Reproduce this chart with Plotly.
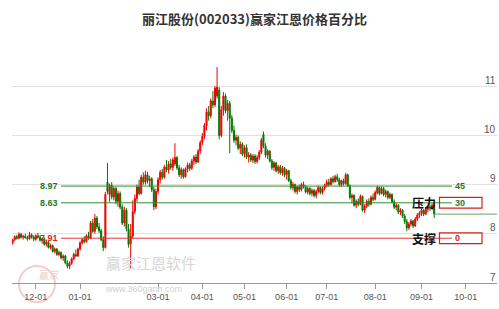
import plotly.graph_objects as go
import pandas as pd

# ---------------- data ----------------
opens = [7.82, 7.88, 7.94, 7.91, 7.99, 7.93, 7.95, 7.92, 7.90, 7.98,
         7.93, 7.89, 7.96, 7.93, 7.87, 7.90, 7.79, 7.83, 7.72, 7.76,
         7.64, 7.69, 7.58, 7.62, 7.51, 7.55, 7.41, 7.34, 7.40, 7.49,
         7.58, 7.55, 7.69, 7.82, 7.88, 7.84, 7.96, 7.91, 8.22, 8.05,
         8.32, 8.14, 8.06, 7.88, 7.72, 9.05, 8.80, 8.98, 8.75, 8.92,
         8.66, 8.82, 8.54, 8.22, 8.48, 8.10, 7.80, 7.95, 8.45, 8.72,
         8.95, 8.82, 9.15, 9.05, 9.20, 9.08, 9.12, 8.90, 8.55, 8.86,
         9.10, 9.25, 9.15, 9.36, 9.30, 9.42, 9.35, 9.42, 9.55, 9.34,
         9.20, 9.30, 9.16, 9.32, 9.40, 9.33, 9.48, 9.56, 9.46, 9.68,
         9.85, 9.98, 10.20, 10.48, 10.40, 10.70, 10.62, 10.80, 10.92, 10.00,
         10.52, 10.80, 10.50, 10.65, 10.35, 10.10, 9.90, 9.96, 9.74, 9.82,
         9.62, 9.75, 9.56, 9.60, 9.50, 9.58, 9.47, 9.55, 9.66, 10.02,
         9.78, 9.60, 9.68, 9.48, 9.35, 9.44, 9.28, 9.36, 9.24, 9.33,
         9.20, 9.28, 9.08, 8.94, 9.00, 8.86, 8.95, 8.90, 9.00, 8.96,
         8.85, 8.92, 8.82, 8.88, 8.78, 8.86, 8.94, 8.84, 8.92, 8.98,
         9.05, 9.00, 9.12, 9.06, 9.16, 9.10, 9.00, 9.08, 9.02, 9.20,
         8.98, 8.74, 8.78, 8.58, 8.66, 8.60, 8.76, 8.48, 8.56, 8.66,
         8.60, 8.74, 8.70, 8.84, 8.94, 8.82, 8.92, 8.80, 8.86, 8.74,
         8.80, 8.65, 8.54, 8.58, 8.44, 8.48, 8.36, 8.25, 8.12, 8.20,
         8.26, 8.16, 8.30, 8.38, 8.42, 8.48, 8.40, 8.50, 8.55, 8.52,
         8.58]
highs = [7.90, 7.97, 7.98, 8.03, 8.02, 7.98, 8.00, 7.96, 8.04, 8.01,
         7.97, 7.99, 8.02, 7.97, 7.92, 7.93, 7.86, 7.86, 7.80, 7.78,
         7.72, 7.71, 7.66, 7.64, 7.58, 7.57, 7.46, 7.44, 7.52, 7.62,
         7.68, 7.72, 7.85, 7.92, 7.95, 7.99, 8.04, 8.26, 8.30, 8.40,
         8.36, 8.22, 8.10, 7.95, 8.85, 9.44, 9.02, 9.05, 8.96, 8.95,
         8.88, 8.86, 8.60, 8.55, 8.52, 8.20, 8.20, 8.68, 8.80, 9.00,
         9.10, 9.20, 9.25, 9.28, 9.26, 9.18, 9.15, 8.95, 8.92, 9.15,
         9.30, 9.32, 9.40, 9.50, 9.48, 9.52, 9.55, 9.84, 9.58, 9.40,
         9.35, 9.33, 9.35, 9.45, 9.44, 9.52, 9.60, 9.62, 9.72, 9.90,
         10.05, 10.25, 10.55, 10.60, 10.75, 10.90, 11.00, 11.39, 10.98, 10.60,
         10.88, 10.85, 10.72, 10.70, 10.42, 10.20, 10.02, 10.00, 9.88, 9.86,
         9.80, 9.82, 9.66, 9.64, 9.62, 9.62, 9.60, 9.70, 9.95, 10.08,
         9.84, 9.72, 9.70, 9.52, 9.48, 9.46, 9.40, 9.40, 9.38, 9.36,
         9.32, 9.30, 9.12, 9.05, 9.02, 8.98, 9.00, 9.04, 9.06, 8.99,
         8.96, 8.95, 8.92, 8.91, 8.90, 8.98, 8.96, 8.96, 9.02, 9.10,
         9.12, 9.15, 9.18, 9.20, 9.22, 9.14, 9.10, 9.12, 9.24, 9.22,
         9.00, 8.82, 8.80, 8.70, 8.72, 8.80, 8.78, 8.60, 8.70, 8.72,
         8.78, 8.82, 8.88, 8.98, 8.96, 8.96, 8.95, 8.90, 8.88, 8.84,
         8.82, 8.70, 8.62, 8.60, 8.52, 8.50, 8.40, 8.30, 8.24, 8.30,
         8.28, 8.34, 8.42, 8.46, 8.52, 8.50, 8.54, 8.58, 8.60, 8.62,
         8.63]
lows = [7.78, 7.85, 7.88, 7.89, 7.90, 7.88, 7.90, 7.86, 7.88, 7.90,
        7.85, 7.86, 7.90, 7.84, 7.80, 7.76, 7.74, 7.70, 7.68, 7.62,
        7.60, 7.55, 7.54, 7.48, 7.45, 7.38, 7.30, 7.28, 7.37, 7.46,
        7.52, 7.53, 7.66, 7.78, 7.80, 7.82, 7.88, 7.89, 8.02, 8.00,
        8.10, 8.02, 7.85, 7.65, 7.70, 8.80, 8.65, 8.70, 8.68, 8.60,
        8.55, 8.50, 8.18, 8.15, 8.05, 7.72, 7.30, 7.90, 8.40, 8.65,
        8.78, 8.80, 9.00, 9.00, 9.02, 8.95, 8.85, 8.48, 8.50, 8.80,
        9.02, 9.10, 9.12, 9.25, 9.22, 9.30, 9.28, 9.38, 9.30, 9.15,
        9.12, 9.12, 9.14, 9.25, 9.28, 9.30, 9.40, 9.42, 9.44, 9.62,
        9.80, 9.92, 10.10, 10.30, 10.35, 10.55, 10.58, 10.75, 9.92, 9.96,
        10.40, 10.45, 10.30, 9.64, 10.05, 9.85, 9.80, 9.70, 9.62, 9.58,
        9.55, 9.52, 9.45, 9.46, 9.44, 9.42, 9.43, 9.50, 9.62, 9.74,
        9.55, 9.52, 9.45, 9.30, 9.28, 9.25, 9.22, 9.20, 9.18, 9.15,
        9.10, 9.05, 8.90, 8.88, 8.82, 8.80, 8.85, 8.86, 8.92, 8.82,
        8.80, 8.78, 8.76, 8.74, 8.72, 8.82, 8.80, 8.80, 8.88, 8.94,
        8.96, 8.98, 9.02, 9.04, 9.05, 8.96, 8.95, 8.98, 9.00, 8.95,
        8.70, 8.62, 8.55, 8.52, 8.56, 8.58, 8.45, 8.42, 8.52, 8.55,
        8.58, 8.66, 8.68, 8.80, 8.78, 8.80, 8.76, 8.74, 8.70, 8.70,
        8.62, 8.50, 8.48, 8.40, 8.38, 8.32, 8.20, 8.05, 8.08, 8.15,
        8.12, 8.14, 8.26, 8.32, 8.36, 8.36, 8.38, 8.44, 8.46, 8.48,
        8.32]
closes = [7.88, 7.94, 7.91, 7.99, 7.93, 7.95, 7.92, 7.90, 7.98, 7.93,
          7.89, 7.96, 7.93, 7.87, 7.90, 7.79, 7.83, 7.72, 7.76, 7.64,
          7.69, 7.58, 7.62, 7.51, 7.55, 7.41, 7.34, 7.40, 7.49, 7.58,
          7.55, 7.69, 7.82, 7.88, 7.84, 7.96, 7.91, 8.22, 8.05, 8.32,
          8.14, 8.06, 7.88, 7.72, 8.80, 8.86, 8.98, 8.75, 8.92, 8.66,
          8.82, 8.54, 8.22, 8.48, 8.10, 7.78, 7.95, 8.45, 8.72, 8.95,
          8.82, 9.15, 9.05, 9.20, 9.08, 9.12, 8.90, 8.55, 8.86, 9.10,
          9.25, 9.15, 9.36, 9.30, 9.42, 9.35, 9.50, 9.55, 9.34, 9.20,
          9.30, 9.16, 9.32, 9.40, 9.33, 9.48, 9.56, 9.46, 9.68, 9.85,
          9.98, 10.20, 10.48, 10.40, 10.70, 10.62, 10.96, 10.98, 10.00, 10.52,
          10.80, 10.50, 10.65, 10.35, 10.10, 9.90, 9.96, 9.74, 9.82, 9.62,
          9.75, 9.56, 9.60, 9.50, 9.58, 9.47, 9.55, 9.66, 9.90, 9.78,
          9.60, 9.68, 9.48, 9.35, 9.44, 9.28, 9.36, 9.24, 9.33, 9.20,
          9.28, 9.08, 8.94, 9.00, 8.86, 8.95, 8.90, 9.00, 8.96, 8.85,
          8.92, 8.82, 8.88, 8.78, 8.86, 8.94, 8.84, 8.92, 8.98, 9.05,
          9.00, 9.12, 9.06, 9.16, 9.10, 9.00, 9.08, 9.02, 9.20, 8.98,
          8.74, 8.78, 8.58, 8.66, 8.60, 8.76, 8.48, 8.56, 8.66, 8.60,
          8.74, 8.70, 8.84, 8.94, 8.82, 8.92, 8.80, 8.86, 8.74, 8.80,
          8.65, 8.54, 8.58, 8.44, 8.48, 8.36, 8.25, 8.12, 8.20, 8.26,
          8.16, 8.30, 8.38, 8.42, 8.48, 8.40, 8.50, 8.55, 8.52, 8.58,
          8.40]

holidays = ["2024-01-01", "2024-02-09", "2024-02-12", "2024-02-13", "2024-02-14",
            "2024-02-15", "2024-02-16", "2024-04-04", "2024-04-05", "2024-05-01",
            "2024-05-02", "2024-05-03", "2024-06-10"]
first_date = "2023-11-16"
last_date = "2024-09-10"
axis_end = "2024-10-25"

tick_months = ["2023-12-01", "2024-01-01", "2024-03-01", "2024-04-01", "2024-05-01",
               "2024-06-01", "2024-07-01", "2024-08-01", "2024-09-01", "2024-10-01"]
tick_labels = ["12-01", "01-01", "03-01", "04-01", "05-01", "06-01", "07-01",
               "08-01", "09-01", "10-01"]
price_ticks = [7, 8, 9, 10, 11, 12]
price_tick_labels = ["7", "8", "9", "10", "11", ""]

level_prices = [8.97, 8.63, 7.91]
level_labels = ["8.97", "8.63", "7.91"]
level_pcts = ["45", "30", "0"]
level_colors = ["#2f8f2f", "#2f8f2f", "#e03a3a"]
level_text_colors = ["#1f7a1f", "#1f7a1f", "#dd2222"]

# ---------------- calendar ----------------
trade_days = [d for d in pd.bdate_range(first_date, last_date)
              if d.strftime("%Y-%m-%d") not in holidays]
future_days = list(pd.bdate_range(pd.Timestamp(last_date) + pd.Timedelta(days=1), axis_end))
all_days = trade_days + future_days
assert len(trade_days) == len(closes)

idx = list(range(len(closes)))
tick_idx = []
for m in tick_months:
    mt = pd.Timestamp(m)
    tick_idx.append(next(i for i, d in enumerate(all_days) if d >= mt))

X0, X1 = -0.3, 229.8
Y0, Y1 = 7, 12

fig = go.Figure()
fig.add_trace(go.Candlestick(
    x=idx, open=opens, high=highs, low=lows, close=closes,
    increasing=dict(line=dict(color="#f00000", width=1), fillcolor="#f00000"),
    decreasing=dict(line=dict(color="#007a00", width=1), fillcolor="#007a00"),
    whiskerwidth=0, hoverinfo="skip", showlegend=False,
))

shapes = []
annotations = []
PLOT_L, PLOT_W = 12, 485


def px(p):
    return (p - PLOT_L) / PLOT_W


for i, (lv, lab, pct) in enumerate(zip(level_prices, level_labels, level_pcts)):
    col = level_colors[i]
    tcol = level_text_colors[i]
    shapes.append(dict(type="line", xref="paper", yref="y", x0=px(61), x1=px(452),
                       y0=lv, y1=lv, line=dict(color=col, width=1)))
    annotations.append(dict(xref="paper", yref="y", x=px(49), y=lv, text="<b>%s</b>" % lab,
                            showarrow=False, font=dict(size=9, color=tcol,
                                                       family="Liberation Sans, Arial"),
                            xanchor="center", yanchor="middle"))
    annotations.append(dict(xref="paper", yref="y", x=px(453), y=lv, text="<b>%s</b>" % pct,
                            showarrow=False, font=dict(size=9, color=tcol,
                                                       family="Liberation Sans, Arial"),
                            xanchor="left", yanchor="middle"))
    if pct != "45":
        shapes.append(dict(type="rect", xref="paper", yref="y", x0=px(439.5), x1=px(482),
                           y0=lv - 0.11, y1=lv + 0.11,
                           line=dict(color="#d42020", width=1.2), fillcolor="rgba(0,0,0,0)"))

annotations.append(dict(xref="paper", yref="y", x=px(424), y=level_prices[1], text="<b>压力</b>",
                        showarrow=False, font=dict(size=12, color="#111",
                                                   family="Noto Sans CJK SC"),
                        xanchor="center", yanchor="middle"))
annotations.append(dict(xref="paper", yref="y", x=px(424), y=level_prices[2], text="<b>支撑</b>",
                        showarrow=False, font=dict(size=12, color="#111",
                                                   family="Noto Sans CJK SC"),
                        xanchor="center", yanchor="middle"))

# price axis labels (sit just above their grid lines, at the right edge)
for v, t in zip(price_ticks, price_tick_labels):
    if t:
        annotations.append(dict(xref="paper", yref="y", x=1.0, y=v, text=t,
                                showarrow=False, xanchor="right", yanchor="middle",
                                yshift=6, xshift=1,
                                font=dict(size=10, color="#555",
                                          family="Liberation Sans, Arial")))

# current price line
shapes.append(dict(type="line", xref="x", yref="y", x0=idx[-1], x1=X1,
                   y0=closes[-1], y1=closes[-1], line=dict(color="#6f9f6f", width=1)))

# watermark
shapes.append(dict(type="circle", xref="paper", yref="paper",
                   x0=px(19), x1=px(55), y0=(283 - 302) / 246, y1=(283 - 266) / 246,
                   line=dict(color="#f3cccc", width=2), fillcolor="rgba(0,0,0,0)", layer="below"))
annotations.append(dict(xref="paper", yref="paper", x=px(37), y=(283 - 284) / 246,
                        text="赢家", showarrow=False,
                        font=dict(size=10, color="#f3cccc", family="Noto Sans CJK SC")))
annotations.append(dict(xref="paper", yref="paper", x=px(104), y=(283 - 275) / 246,
                        text="赢家江恩软件", showarrow=False,
                        font=dict(size=15, color="#d6d6d6", family="Noto Sans CJK SC")))
annotations.append(dict(xref="paper", yref="paper", x=px(103), y=(283 - 296) / 246,
                        text="www.360gann.com", showarrow=False,
                        font=dict(size=9, color="#d0d0d0", family="Liberation Sans, Arial")))

fig.update_layout(
    width=499, height=309,
    margin=dict(l=PLOT_L, r=499 - PLOT_L - PLOT_W, t=37, b=26),
    paper_bgcolor="white", plot_bgcolor="white",
    showlegend=False,
    title=dict(text="<b>丽江股份(002033)赢家江恩价格百分比</b>", x=0.51, xanchor="center",
               y=1 - 19 / 309, yanchor="middle",
               font=dict(size=13, color="#333", family="Noto Sans CJK SC")),
    shapes=shapes, annotations=annotations,
    xaxis=dict(range=[X0, X1], tickvals=tick_idx, ticktext=tick_labels,
               showgrid=False, zeroline=False, showline=True, linecolor="#999",
               linewidth=1, ticks="outside", ticklen=5, tickcolor="#999",
               tickfont=dict(size=9, color="#555", family="Liberation Sans, Arial"),
               rangeslider=dict(visible=False), fixedrange=True),
    yaxis=dict(range=[Y0, Y1], tickvals=price_ticks, showticklabels=False,
               side="right", showgrid=True, gridcolor="#e2e2e2", gridwidth=1,
               zeroline=False, showline=False, ticks="", fixedrange=True),
)

fig.write_html("out.html")
